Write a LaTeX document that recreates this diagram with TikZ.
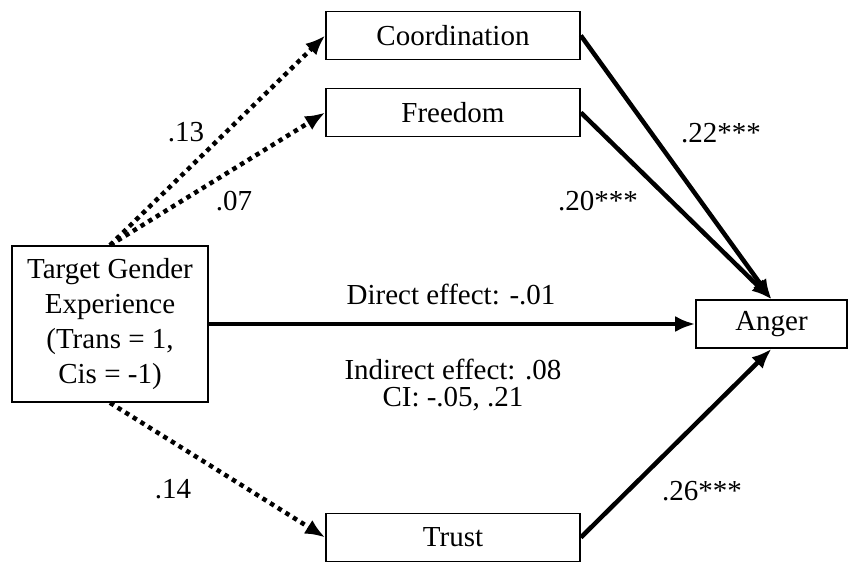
\documentclass[tikz,border=0pt]{standalone}
\usepackage{fontspec}
\setmainfont{Liberation Serif}
\usetikzlibrary{arrows.meta}

\tikzset{
    varbox/.style={draw, line width=1.6pt, minimum width=254pt, minimum height=48pt, inner sep=0pt},
    solidpath/.style={line width=4.5pt, -{Latex[length=20pt,width=16pt]}},
    dotpath/.style={line width=4.5pt, dash pattern=on 4.5pt off 4.5pt, -{Latex[length=20pt,width=16pt]}},
    coef/.style={inner sep=0pt, anchor=base}
}

\begin{document}
\begin{tikzpicture}[x=1pt, y=-1pt, font=\fontsize{29}{35}\selectfont]

    \useasboundingbox (0,0) rectangle (851,571);

    % The predictor on the left
    \node[draw, line width=1.6pt, minimum width=196pt, minimum height=156pt, inner sep=0pt, align=center]
        (target) at (110,324) {Target Gender\\Experience\\(Trans = 1,\\Cis = -1)};

    % Mediators
    \node[varbox] (coord) at (453,35.5) {Coordination};
    \node[varbox] (freedom) at (453,112.5) {Freedom};
    \node[varbox] (trust) at (453,537.5) {Trust};

    % Outcome
    \node[varbox, minimum width=151pt] (anger) at (771.5,324) {Anger};

    % Paths to the mediators (not significant)
    \draw[dotpath] (target.north) -- (coord.west);
    \draw[dotpath] (target.north) -- (freedom.west);
    \draw[dotpath] (target.south) -- (trust.west);

    % Paths from the mediators to the outcome
    \draw[solidpath] (coord.east) -- (anger.north);
    \draw[solidpath] (freedom.east) -- (anger.north);
    \draw[solidpath] (trust.east) -- (anger.south);

    % Direct path
    \draw[solidpath] (target.east) -- (anger.west);

    % Coefficients
    \node[coef] (c13) at (186,141) {.13};
    \node[coef] (c07) at (234,210) {.07};
    \node[coef] (c22) at (721,142) {.22***};
    \node[coef] (c20) at (598,210) {.20***};
    \node[coef] (c14) at (173,498) {.14};
    \node[coef] (c26) at (702,500) {.26***};

    % Effects
    \node[coef] (direct) at (451,304) {Direct effect: -.01};
    \node[inner sep=0pt, align=center, font=\fontsize{29}{26.5}\selectfont] (indirect) at (453,385)
        {Indirect effect: .08\\CI: -.05, .21};

\end{tikzpicture}
\end{document}
